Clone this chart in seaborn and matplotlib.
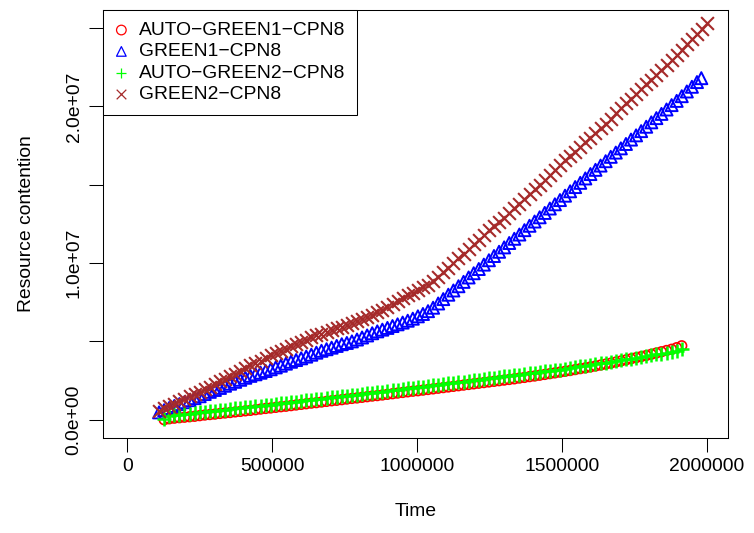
import matplotlib
matplotlib.use("Agg")
import matplotlib.pyplot as plt
from matplotlib.markers import MarkerStyle
import seaborn as sns

sns.set_style("white")
plt.rcParams["font.family"] = ["Liberation Sans", "DejaVu Sans"]
plt.rcParams["text.color"] = "black"
plt.rcParams["axes.labelcolor"] = "black"
plt.rcParams["xtick.color"] = "black"
plt.rcParams["ytick.color"] = "black"

# ---- data (resource values in millions) ----
time_green2 = [110000, 127500, 145000, 162500, 180000, 197500, 215000, 232500, 250000, 267500,
               285000, 302500, 320000, 337500, 355000, 372500, 390000, 407500, 425000, 442500,
               460000, 477500, 495000, 512500, 530000, 547500, 565000, 582500, 600000, 617500,
               635000, 652500, 670000, 687500, 705000, 722500, 740000, 757500, 775000, 792500,
               810000, 827500, 845000, 862500, 880000, 897500, 915000, 932500, 950000, 967500,
               985000, 1002500, 1020000, 1037500, 1055000, 1072500, 1090000, 1107500, 1125000, 1142500,
               1160000, 1177500, 1195000, 1212500, 1230000, 1247500, 1265000, 1282500, 1300000, 1317500,
               1335000, 1352500, 1370000, 1387500, 1405000, 1422500, 1440000, 1457500, 1475000, 1492500,
               1510000, 1527500, 1545000, 1562500, 1580000, 1597500, 1615000, 1632500, 1650000, 1667500,
               1685000, 1702500, 1720000, 1737500, 1755000, 1772500, 1790000, 1807500, 1825000, 1842500,
               1860000, 1877500, 1895000, 1912500, 1930000, 1947500, 1965000, 1982500, 2000000]
res_green2 = [0.58, 0.72, 0.88, 1.02, 1.18, 1.34, 1.50, 1.64, 1.80, 1.95,
              2.10, 2.28, 2.45, 2.60, 2.78, 2.95, 3.12, 3.30, 3.48, 3.60,
              3.75, 3.93, 4.10, 4.25, 4.40, 4.54, 4.68, 4.84, 4.98, 5.12,
              5.25, 5.38, 5.50, 5.60, 5.72, 5.84, 5.95, 6.06, 6.18, 6.30,
              6.42, 6.56, 6.70, 6.86, 7.02, 7.20, 7.40, 7.60, 7.80, 7.95,
              8.10, 8.28, 8.45, 8.63, 8.85, 9.12, 9.40, 9.70, 10.00, 10.30,
              10.60, 10.90, 11.20, 11.50, 11.80, 12.08, 12.35, 12.62, 12.90, 13.20,
              13.50, 13.80, 14.10, 14.40, 14.70, 15.00, 15.30, 15.62, 15.95, 16.25,
              16.55, 16.82, 17.10, 17.40, 17.70, 18.00, 18.30, 18.60, 18.90, 19.22,
              19.55, 19.88, 20.20, 20.50, 20.80, 21.10, 21.40, 21.70, 22.00, 22.32,
              22.65, 22.98, 23.30, 23.62, 23.95, 24.28, 24.60, 24.95, 25.30]

time_green1 = [110000, 127500, 145000, 162500, 180000, 197500, 215000, 232500, 250000, 267500,
               285000, 302500, 320000, 337500, 355000, 372500, 390000, 407500, 425000, 442500,
               460000, 477500, 495000, 512500, 530000, 547500, 565000, 582500, 600000, 617500,
               635000, 652500, 670000, 687500, 705000, 722500, 740000, 757500, 775000, 792500,
               810000, 827500, 845000, 862500, 880000, 897500, 915000, 932500, 950000, 967500,
               985000, 1002500, 1020000, 1037500, 1055000, 1072500, 1090000, 1107500, 1125000, 1142500,
               1160000, 1177500, 1195000, 1212500, 1230000, 1247500, 1265000, 1282500, 1300000, 1317500,
               1335000, 1352500, 1370000, 1387500, 1405000, 1422500, 1440000, 1457500, 1475000, 1492500,
               1510000, 1527500, 1545000, 1562500, 1580000, 1597500, 1615000, 1632500, 1650000, 1667500,
               1685000, 1702500, 1720000, 1737500, 1755000, 1772500, 1790000, 1807500, 1825000, 1842500,
               1860000, 1877500, 1895000, 1912500, 1930000, 1947500, 1965000, 1980000]
res_green1 = [0.47, 0.61, 0.75, 0.88, 1.00, 1.12, 1.25, 1.38, 1.50, 1.64,
              1.78, 1.90, 2.03, 2.17, 2.30, 2.42, 2.55, 2.68, 2.80, 2.90,
              3.00, 3.11, 3.22, 3.34, 3.45, 3.58, 3.70, 3.81, 3.92, 4.03,
              4.15, 4.28, 4.40, 4.50, 4.60, 4.71, 4.82, 4.90, 5.00, 5.12,
              5.25, 5.38, 5.52, 5.64, 5.75, 5.86, 5.98, 6.09, 6.20, 6.32,
              6.45, 6.60, 6.75, 6.93, 7.15, 7.42, 7.70, 7.98, 8.25, 8.52,
              8.80, 9.08, 9.35, 9.62, 9.90, 10.18, 10.45, 10.72, 11.00, 11.28,
              11.55, 11.82, 12.10, 12.38, 12.65, 12.92, 13.20, 13.48, 13.75, 14.02,
              14.30, 14.58, 14.85, 15.12, 15.40, 15.68, 15.95, 16.22, 16.50, 16.78,
              17.05, 17.32, 17.60, 17.88, 18.15, 18.42, 18.70, 18.98, 19.25, 19.52,
              19.80, 20.08, 20.35, 20.65, 20.95, 21.25, 21.55, 21.80]

time_auto = [127500, 145000, 162500, 180000, 197500, 215000, 232500, 250000, 267500,
             285000, 302500, 320000, 337500, 355000, 372500, 390000, 407500, 425000, 442500,
             460000, 477500, 495000, 512500, 530000, 547500, 565000, 582500, 600000, 617500,
             635000, 652500, 670000, 687500, 705000, 722500, 740000, 757500, 775000, 792500,
             810000, 827500, 845000, 862500, 880000, 897500, 915000, 932500, 950000, 967500,
             985000, 1002500, 1020000, 1037500, 1055000, 1072500, 1090000, 1107500, 1125000, 1142500,
             1160000, 1177500, 1195000, 1212500, 1230000, 1247500, 1265000, 1282500, 1300000, 1317500,
             1335000, 1352500, 1370000, 1387500, 1405000, 1422500, 1440000, 1457500, 1475000, 1492500,
             1510000, 1527500, 1545000, 1562500, 1580000, 1597500, 1615000, 1632500, 1650000, 1667500,
             1685000, 1702500, 1720000, 1737500, 1755000, 1772500, 1790000, 1807500, 1825000, 1842500,
             1860000, 1877500, 1895000, 1912500]
res_auto_green2 = [0.05, 0.22, 0.28, 0.32, 0.35, 0.38, 0.43, 0.48, 0.52, 0.55,
                   0.58, 0.62, 0.65, 0.68, 0.72, 0.75, 0.79, 0.82, 0.86, 0.90,
                   0.94, 0.97, 1.01, 1.05, 1.08, 1.12, 1.16, 1.20, 1.24, 1.28,
                   1.31, 1.35, 1.39, 1.43, 1.46, 1.50, 1.54, 1.58, 1.61, 1.65,
                   1.69, 1.73, 1.76, 1.80, 1.84, 1.88, 1.92, 1.96, 2.00, 2.04,
                   2.08, 2.12, 2.16, 2.20, 2.24, 2.28, 2.32, 2.36, 2.40, 2.44,
                   2.48, 2.52, 2.56, 2.60, 2.64, 2.68, 2.72, 2.76, 2.80, 2.84,
                   2.88, 2.92, 2.96, 3.00, 3.04, 3.08, 3.12, 3.16, 3.20, 3.25,
                   3.30, 3.35, 3.40, 3.45, 3.50, 3.55, 3.60, 3.65, 3.70, 3.75,
                   3.80, 3.85, 3.90, 3.95, 4.00, 4.06, 4.12, 4.17, 4.22, 4.28,
                   4.34, 4.40, 4.50]
res_auto_green1 = [0.00, 0.06, 0.10, 0.13, 0.16, 0.19, 0.22, 0.26, 0.30, 0.33,
                   0.36, 0.40, 0.43, 0.46, 0.50, 0.53, 0.57, 0.60, 0.64, 0.68,
                   0.72, 0.75, 0.79, 0.83, 0.86, 0.90, 0.94, 0.98, 1.02, 1.06,
                   1.09, 1.13, 1.17, 1.21, 1.24, 1.28, 1.32, 1.36, 1.39, 1.43,
                   1.47, 1.51, 1.54, 1.58, 1.62, 1.66, 1.70, 1.74, 1.78, 1.82,
                   1.85, 1.89, 1.93, 1.97, 2.01, 2.05, 2.09, 2.13, 2.17, 2.21,
                   2.25, 2.29, 2.33, 2.37, 2.41, 2.45, 2.49, 2.53, 2.57, 2.61,
                   2.66, 2.70, 2.75, 2.79, 2.84, 2.89, 2.94, 2.99, 3.04, 3.09,
                   3.14, 3.20, 3.26, 3.31, 3.37, 3.43, 3.49, 3.55, 3.61, 3.68,
                   3.75, 3.82, 3.89, 3.96, 4.03, 4.10, 4.18, 4.26, 4.34, 4.42,
                   4.50, 4.60, 4.72]

labels = ["AUTO\u2212GREEN1\u2212CPN8", "GREEN1\u2212CPN8",
          "AUTO\u2212GREEN2\u2212CPN8", "GREEN2\u2212CPN8"]
x_ticks = [0, 500000, 1000000, 1500000, 2000000]
y_ticks = [0, 5e6, 1e7, 1.5e7, 2e7, 2.5e7]
y_ticklabels = ["0.0e+00", "", "1.0e+07", "", "2.0e+07", ""]

FS = 13.9

fig = plt.figure(figsize=(7.54, 5.33), dpi=100)
ax = fig.add_axes([103.4 / 754, 1 - 437.6 / 533, (728 - 103.4) / 754, (437.6 - 10) / 533])

series = [
    (time_auto, res_auto_green1, MarkerStyle("o", fillstyle="none"), "#FF0000", labels[0], 48, 1.2),
    (time_green1, res_green1, MarkerStyle("^", fillstyle="none"), "#0000FF", labels[1], 75, 1.4),
    (time_auto, res_auto_green2, "+", "#00FF00", labels[2], 100, 1.8),
    (time_green2, res_green2, "x", "#A52A2A", labels[3], 85, 1.5),
]
for t, r, m, c, lab, size, lw in series:
    sns.scatterplot(x=t, y=[v * 1e6 for v in r], ax=ax, marker=m, color=c,
                    s=size, linewidth=lw, label=lab)

ax.set_xlim(-82000, 2072000)
ax.set_ylim(-1.14e6, 26.15e6)
ax.set_xticks(x_ticks)
ax.set_xticklabels([str(v) for v in x_ticks])
ax.set_yticks(y_ticks)
ax.set_yticklabels(y_ticklabels, rotation=90, va="center")
ax.tick_params(axis="both", direction="out", length=10, width=0.75,
               color="black", labelcolor="black", labelsize=FS, pad=5,
               bottom=True, left=True)

for sp in ax.spines.values():
    sp.set_color("black")
    sp.set_linewidth(0.75)

ax.set_xlabel("Time", fontsize=FS, labelpad=20)
ax.set_ylabel("Resource contention", fontsize=FS, labelpad=22)

leg = ax.legend(loc="upper left", bbox_to_anchor=(0, 1), borderaxespad=0,
                frameon=True, fancybox=False, edgecolor="black", framealpha=1,
                fontsize=FS, borderpad=0.6, handlelength=0.66, handletextpad=0.6,
                labelspacing=0.2)
leg.get_frame().set_linewidth(0.75)
for h in leg.legend_handles:
    h.set_sizes([48])
    h.set_linewidth(0.9)
for txt in leg.get_texts():
    txt.set_color("black")

fig.savefig("out.png", dpi=100)
